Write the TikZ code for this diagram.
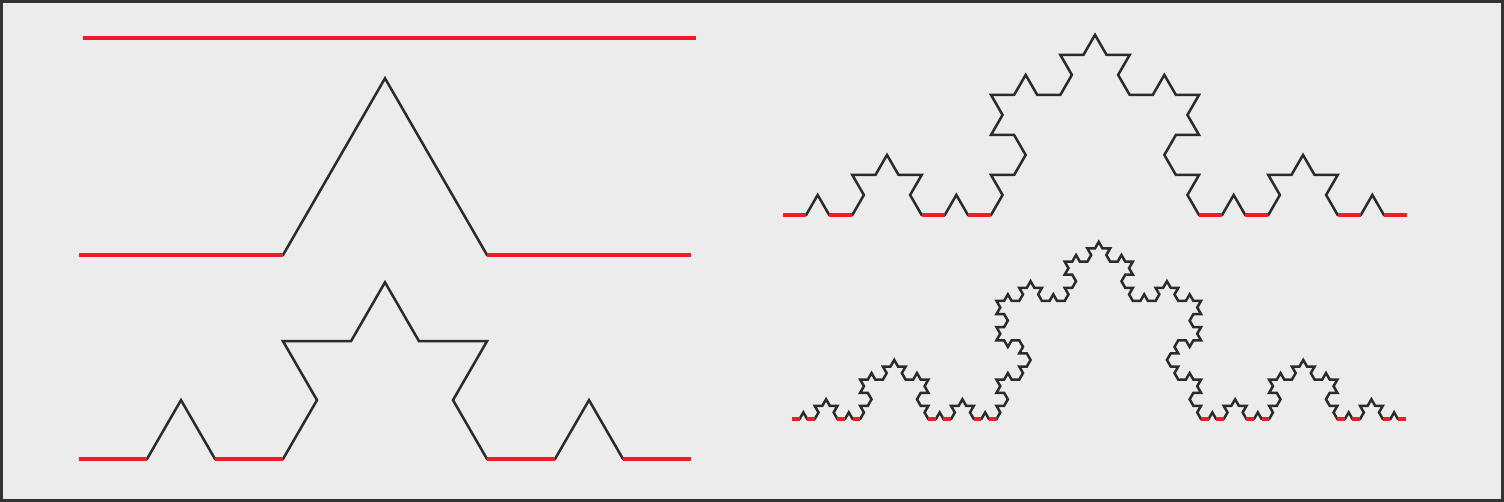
\documentclass[tikz,border=0pt]{standalone}
\usetikzlibrary{lindenmayersystems}
\definecolor{bg}{HTML}{EBECEB}
\definecolor{frame}{HTML}{333333}
\definecolor{kred}{HTML}{EE1D25}
\definecolor{kblack}{HTML}{2B2B2B}
\pgfdeclarelindenmayersystem{Koch}{\rule{F -> F+F--F+F}}
\tikzset{
  blackline/.style={draw=kblack, line width=2.5pt, line join=miter},
  redline/.style={draw=kred, line width=3.6pt, line cap=butt},
}
\begin{document}
\begin{tikzpicture}[x=1pt,y=1pt]
\useasboundingbox (0,0) rectangle (1504,502);
\fill[bg] (0,0) rectangle (1504,502);
\draw[frame, line width=3pt] (1.5,1.5) rectangle (1502.5,500.5);
% level 0
\draw[redline] (83,464) -- (696,464);
% level 1
\begin{scope}[shift={(79,247)}]
\draw[blackline, lindenmayer system={Koch, axiom=F, order=1, step=204pt, angle=60}] lindenmayer system;
\end{scope}
\foreach \o in {0,2} \draw[redline] ({79+\o*204},247) -- ++(204,0);
% level 2
\begin{scope}[shift={(79,43)}]
\draw[blackline, lindenmayer system={Koch, axiom=F, order=2, step=68pt, angle=60}] lindenmayer system;
\end{scope}
\foreach \o in {0,2,6,8} \draw[redline] ({79+\o*68},43) -- ++(68,0);
% level 3
\begin{scope}[shift={(783,287)}]
\draw[blackline, lindenmayer system={Koch, axiom=F, order=3, step=23.111pt, angle=60}] lindenmayer system;
\end{scope}
\foreach \o in {0,2,6,8,18,20,24,26} \draw[redline] ({783+\o*23.111},287) -- ++(23.111,0);
% level 4
\begin{scope}[shift={(792,83)}]
\draw[blackline, lindenmayer system={Koch, axiom=F, order=4, step=7.574pt, angle=60}] lindenmayer system;
\end{scope}
\foreach \o in {0,2,6,8,18,20,24,26,54,56,60,62,72,74,78,80} \draw[redline] ({792+\o*7.574},83) -- ++(7.574,0);
\end{tikzpicture}
\end{document}
